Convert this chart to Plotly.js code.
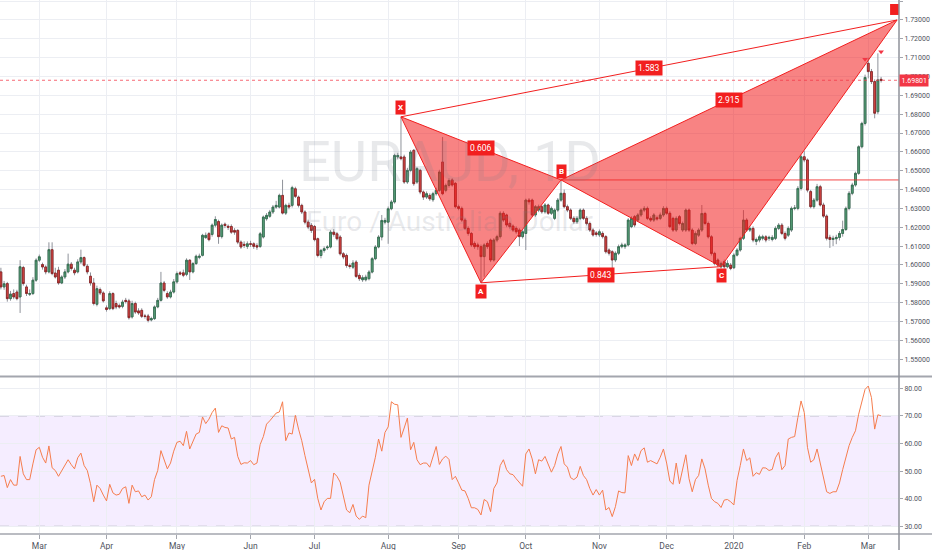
<!DOCTYPE html>
<html><head><meta charset="utf-8">
<script src="https://cdn.plot.ly/plotly-3.0.1.min.js"></script>
<style>html,body{margin:0;padding:0;background:#fff}#chart{width:932px;height:550px}</style>
</head><body><div id="chart"></div>
<script>
// ---------- calendar ----------
const startDate = '2019-02-13';
const holidays = ['2019-12-25', '2020-01-01'];
const monthNames = ['Jan','Feb','Mar','Apr','May','Jun','Jul','Aug','Sep','Oct','Nov','Dec'];

// ---------- EURAUD daily OHLC ----------
const open = [
1.5963,1.5883,1.5901,1.5821,1.5848,1.5856,1.5830,1.5986,1.5883,1.5844,
1.5848,1.5919,1.6025,1.6002,1.5989,1.5963,1.6081,1.5957,1.5972,1.5904,
1.5936,1.5963,1.6004,1.5972,1.5963,1.6016,1.6039,1.5993,1.5940,1.5904,
1.5791,1.5869,1.5851,1.5772,1.5768,1.5848,1.5795,1.5784,1.5780,1.5812,
1.5809,1.5724,1.5795,1.5756,1.5759,1.5729,1.5729,1.5708,1.5715,1.5777,
1.5812,1.5904,1.5848,1.5830,1.5856,1.5910,1.5958,1.5958,1.5950,1.6025,
1.5963,1.6007,1.6040,1.6051,1.6145,1.6166,1.6162,1.6211,1.6230,1.6150,
1.6216,1.6205,1.6204,1.6183,1.6183,1.6121,1.6109,1.6098,1.6112,1.6112,
1.6102,1.6098,1.6148,1.6245,1.6258,1.6281,1.6307,1.6307,1.6369,1.6275,
1.6316,1.6316,1.6404,1.6360,1.6316,1.6281,1.6227,1.6210,1.6204,1.6139,
1.6050,1.6077,1.6091,1.6095,1.6174,1.6165,1.6148,1.6059,1.6050,1.5997,
1.5988,1.6015,1.5944,1.5921,1.5921,1.5927,1.5962,1.6033,1.6095,1.6148,
1.6227,1.6227,1.6298,1.6334,1.6573,1.6573,1.6573,1.6440,1.6502,1.6608,
1.6440,1.6502,1.6387,1.6360,1.6369,1.6346,1.6378,1.6396,1.6546,1.6396,
1.6422,1.6451,1.6433,1.6309,1.6300,1.6238,1.6194,1.6167,1.6114,1.6106,
1.6097,1.6044,1.6114,1.6132,1.6026,1.6132,1.6150,1.6274,1.6265,1.6220,
1.6206,1.6194,1.6185,1.6150,1.6167,1.6344,1.6344,1.6265,1.6291,1.6309,
1.6282,1.6318,1.6274,1.6247,1.6291,1.6344,1.6380,1.6309,1.6291,1.6247,
1.6229,1.6247,1.6291,1.6247,1.6220,1.6185,1.6170,1.6159,1.6167,1.6150,
1.6079,1.6070,1.6026,1.6062,1.6097,1.6097,1.6106,1.6203,1.6256,1.6238,
1.6265,1.6291,1.6300,1.6247,1.6238,1.6250,1.6247,1.6265,1.6300,1.6274,
1.6247,1.6185,1.6256,1.6185,1.6185,1.6291,1.6185,1.6114,1.6158,1.6185,
1.6273,1.6220,1.6149,1.6061,1.6026,1.5990,1.6017,1.5990,1.5999,1.5985,
1.6052,1.6079,1.6141,1.6238,1.6185,1.6194,1.6125,1.6132,1.6141,1.6149,
1.6141,1.6135,1.6141,1.6194,1.6211,1.6167,1.6158,1.6185,1.6300,1.6300,
1.6406,1.6574,1.6557,1.6389,1.6309,1.6344,1.6415,1.6318,1.6259,1.6146,
1.6135,1.6139,1.6146,1.6167,1.6188,1.6300,1.6380,1.6424,1.6486,1.6627,
1.6751,1.7070,1.7026,1.6973,1.6813,1.6985];
const high = [
1.5985,1.5915,1.5910,1.5862,1.5870,1.5868,1.6025,1.5995,1.5895,1.5870,
1.5935,1.6035,1.6055,1.6012,1.5998,1.6120,1.6120,1.5985,1.5990,1.5945,
1.5978,1.6060,1.6015,1.5985,1.6030,1.6081,1.6045,1.6005,1.5960,1.5930,
1.5890,1.5880,1.5860,1.5785,1.5860,1.5855,1.5810,1.5795,1.5815,1.5825,
1.5820,1.5810,1.5805,1.5770,1.5770,1.5740,1.5740,1.5725,1.5785,1.5825,
1.5963,1.5915,1.5860,1.5868,1.5925,1.5965,1.5968,1.5975,1.6035,1.6030,
1.6015,1.6055,1.6060,1.6165,1.6172,1.6175,1.6220,1.6258,1.6240,1.6220,
1.6225,1.6215,1.6215,1.6195,1.6190,1.6130,1.6125,1.6125,1.6128,1.6120,
1.6115,1.6175,1.6262,1.6275,1.6292,1.6318,1.6340,1.6378,1.6452,1.6325,
1.6330,1.6420,1.6415,1.6368,1.6325,1.6290,1.6240,1.6222,1.6212,1.6145,
1.6085,1.6098,1.6105,1.6185,1.6190,1.6175,1.6158,1.6068,1.6060,1.6008,
1.6025,1.6025,1.5955,1.5945,1.5948,1.5972,1.6042,1.6105,1.6158,1.6265,
1.6250,1.6310,1.6345,1.6590,1.6595,1.6786,1.6585,1.6515,1.6610,1.6615,
1.6520,1.6510,1.6395,1.6390,1.6380,1.6388,1.6410,1.6505,1.6679,1.6432,
1.6460,1.6460,1.6440,1.6320,1.6310,1.6248,1.6205,1.6175,1.6125,1.6118,
1.6108,1.6115,1.6125,1.6140,1.6142,1.6160,1.6285,1.6285,1.6272,1.6230,
1.6215,1.6205,1.6195,1.6185,1.6352,1.6355,1.6352,1.6318,1.6320,1.6318,
1.6328,1.6325,1.6310,1.6300,1.6355,1.6451,1.6400,1.6320,1.6300,1.6258,
1.6258,1.6300,1.6300,1.6258,1.6230,1.6195,1.6180,1.6188,1.6178,1.6158,
1.6088,1.6078,1.6072,1.6108,1.6118,1.6115,1.6248,1.6258,1.6265,1.6275,
1.6300,1.6312,1.6310,1.6258,1.6275,1.6262,1.6278,1.6312,1.6310,1.6285,
1.6256,1.6258,1.6265,1.6230,1.6300,1.6300,1.6195,1.6178,1.6195,1.6318,
1.6282,1.6230,1.6158,1.6070,1.6035,1.6018,1.6028,1.6025,1.6010,1.6062,
1.6090,1.6150,1.6291,1.6248,1.6205,1.6205,1.6145,1.6160,1.6160,1.6158,
1.6155,1.6158,1.6205,1.6222,1.6222,1.6178,1.6205,1.6310,1.6318,1.6418,
1.6585,1.6605,1.6565,1.6398,1.6355,1.6430,1.6425,1.6330,1.6268,1.6160,
1.6155,1.6160,1.6180,1.6235,1.6310,1.6392,1.6436,1.6495,1.6635,1.6760,
1.7010,1.7100,1.7040,1.6985,1.7123,1.6998];
const low = [
1.5870,1.5868,1.5805,1.5810,1.5818,1.5812,1.5745,1.5890,1.5835,1.5835,
1.5840,1.5910,1.6015,1.5975,1.5950,1.5955,1.5945,1.5928,1.5895,1.5898,
1.5925,1.5955,1.5970,1.5945,1.5955,1.6005,1.5990,1.5950,1.5890,1.5785,
1.5780,1.5840,1.5800,1.5752,1.5760,1.5760,1.5765,1.5768,1.5770,1.5795,
1.5710,1.5715,1.5740,1.5735,1.5718,1.5715,1.5695,1.5700,1.5708,1.5770,
1.5805,1.5855,1.5820,1.5822,1.5848,1.5900,1.5945,1.5935,1.5940,1.5920,
1.5955,1.6000,1.6030,1.6045,1.6138,1.6125,1.6150,1.6200,1.6112,1.6140,
1.6195,1.6185,1.6165,1.6160,1.6110,1.6085,1.6090,1.6085,1.6095,1.6085,
1.6080,1.6090,1.6140,1.6235,1.6250,1.6270,1.6298,1.6300,1.6268,1.6265,
1.6295,1.6305,1.6355,1.6305,1.6270,1.6215,1.6190,1.6170,1.6125,1.6040,
1.6035,1.6065,1.6080,1.6088,1.6150,1.6130,1.6050,1.6030,1.5985,1.5980,
1.5978,1.5930,1.5915,1.5910,1.5912,1.5918,1.5955,1.6025,1.6088,1.6130,
1.6215,1.6112,1.6290,1.6325,1.6560,1.6555,1.6430,1.6430,1.6495,1.6420,
1.6430,1.6375,1.6345,1.6350,1.6340,1.6335,1.6368,1.6388,1.6370,1.6385,
1.6410,1.6415,1.6300,1.6290,1.6228,1.6185,1.6155,1.6095,1.6085,1.6080,
1.5905,1.5937,1.6085,1.6015,1.6018,1.6120,1.6140,1.6228,1.6200,1.6192,
1.6175,1.6165,1.6100,1.6140,1.6079,1.6320,1.6255,1.6255,1.6280,1.6272,
1.6272,1.6265,1.6265,1.6238,1.6282,1.6335,1.6300,1.6280,1.6238,1.6218,
1.6218,1.6238,1.6238,1.6210,1.6175,1.6150,1.6150,1.6148,1.6140,1.6060,
1.6050,1.5982,1.6015,1.6052,1.6088,1.6085,1.6098,1.6195,1.6200,1.6228,
1.6255,1.6280,1.6238,1.6228,1.6228,1.6235,1.6238,1.6255,1.6265,1.6195,
1.6175,1.6175,1.6210,1.6175,1.6175,1.6175,1.6105,1.6105,1.6148,1.6175,
1.6210,1.6140,1.6050,1.5998,1.5988,1.5981,1.5980,1.5982,1.5972,1.5978,
1.6045,1.6070,1.6132,1.6175,1.6175,1.6120,1.6105,1.6120,1.6130,1.6120,
1.6128,1.6125,1.6132,1.6185,1.6158,1.6130,1.6148,1.6175,1.6290,1.6290,
1.6395,1.6545,1.6385,1.6300,1.6298,1.6335,1.6310,1.6250,1.6130,1.6090,
1.6100,1.6110,1.6130,1.6150,1.6180,1.6290,1.6370,1.6415,1.6478,1.6618,
1.6740,1.6990,1.6960,1.6778,1.6800,1.6968];
const close = [
1.5883,1.5900,1.5821,1.5845,1.5830,1.5821,1.5990,1.5901,1.5848,1.5848,
1.5919,1.6025,1.6043,1.5989,1.5963,1.6081,1.5954,1.5936,1.5904,1.5936,
1.5963,1.6004,1.5981,1.5958,1.6016,1.6039,1.5998,1.5963,1.5904,1.5795,
1.5874,1.5851,1.5809,1.5764,1.5848,1.5768,1.5777,1.5777,1.5803,1.5806,
1.5720,1.5795,1.5750,1.5745,1.5727,1.5727,1.5706,1.5715,1.5777,1.5812,
1.5904,1.5865,1.5830,1.5856,1.5910,1.5954,1.5952,1.5945,1.6025,1.5963,
1.6007,1.6046,1.6046,1.6157,1.6157,1.6134,1.6211,1.6241,1.6150,1.6211,
1.6209,1.6200,1.6174,1.6174,1.6121,1.6095,1.6104,1.6112,1.6110,1.6098,
1.6095,1.6165,1.6254,1.6263,1.6281,1.6307,1.6316,1.6369,1.6275,1.6316,
1.6307,1.6410,1.6364,1.6316,1.6281,1.6227,1.6201,1.6183,1.6134,1.6050,
1.6077,1.6086,1.6095,1.6174,1.6162,1.6139,1.6059,1.6042,1.5997,1.5992,
1.6010,1.5939,1.5927,1.5932,1.5935,1.5962,1.6033,1.6095,1.6148,1.6236,
1.6236,1.6298,1.6334,1.6581,1.6581,1.6564,1.6440,1.6502,1.6599,1.6431,
1.6511,1.6387,1.6360,1.6378,1.6351,1.6378,1.6396,1.6493,1.6378,1.6422,
1.6448,1.6424,1.6309,1.6300,1.6238,1.6194,1.6167,1.6106,1.6097,1.6097,
1.6044,1.6106,1.6097,1.6026,1.6132,1.6150,1.6274,1.6238,1.6212,1.6203,
1.6185,1.6176,1.6150,1.6176,1.6344,1.6335,1.6265,1.6309,1.6309,1.6282,
1.6318,1.6274,1.6300,1.6291,1.6344,1.6380,1.6309,1.6291,1.6247,1.6229,
1.6247,1.6291,1.6247,1.6220,1.6185,1.6159,1.6162,1.6176,1.6150,1.6070,
1.6062,1.6026,1.6062,1.6097,1.6106,1.6106,1.6238,1.6247,1.6212,1.6265,
1.6291,1.6300,1.6247,1.6238,1.6265,1.6245,1.6265,1.6300,1.6274,1.6203,
1.6185,1.6247,1.6220,1.6220,1.6291,1.6185,1.6114,1.6167,1.6185,1.6273,
1.6220,1.6149,1.6061,1.6008,1.5999,1.6008,1.5990,1.6008,1.5981,1.6052,
1.6079,1.6141,1.6238,1.6185,1.6194,1.6132,1.6135,1.6149,1.6149,1.6132,
1.6146,1.6146,1.6194,1.6211,1.6167,1.6141,1.6194,1.6300,1.6302,1.6406,
1.6574,1.6557,1.6397,1.6309,1.6344,1.6415,1.6318,1.6259,1.6141,1.6135,
1.6141,1.6146,1.6167,1.6188,1.6300,1.6380,1.6424,1.6486,1.6627,1.6751,
1.6995,1.7026,1.6973,1.6805,1.6982,1.69801];

// ---------- RSI(14) ----------
const rsi = [
48.1,48.4,44.0,46.9,44.9,44.9,55.3,49.0,46.9,46.9,
52.6,57.7,58.6,55.0,52.9,59.1,51.2,50.2,48.1,50.2,
52.0,54.1,52.3,50.8,54.8,56.5,52.0,50.2,45.4,38.9,
44.9,43.7,41.3,39.2,45.2,42.1,41.3,41.6,43.7,44.3,
38.3,44.9,42.5,42.8,40.7,41.3,39.5,40.7,46.9,50.2,
57.4,54.4,50.8,52.9,57.2,60.4,60.8,59.2,64.4,58.0,
61.0,63.4,64.0,69.6,67.2,68.8,71.2,72.8,64.0,66.4,
65.8,65.6,61.6,62.2,55.3,52.4,53.0,52.9,53.8,52.3,
52.9,59.6,62.5,67.0,68.2,69.8,71.0,71.4,75.1,61.0,
63.8,63.4,70.2,65.2,61.0,55.6,50.5,45.7,47.0,40.1,
35.9,38.9,40.1,40.1,49.3,48.1,46.0,40.9,35.9,34.9,
37.9,33.7,32.5,33.7,33.1,44.9,50.2,55.0,61.6,57.2,
64.0,66.0,75.1,74.2,74.0,62.2,65.6,69.2,57.7,60.4,
54.1,52.3,52.9,52.9,51.4,54.8,58.9,52.4,54.4,55.4,
54.2,46.9,48.1,45.7,43.1,42.8,40.1,36.7,36.7,36.1,
34.1,39.7,38.9,35.3,43.7,45.7,52.0,54.1,50.5,49.0,
48.7,47.2,46.0,44.5,56.2,58.0,54.4,49.0,54.1,53.6,
55.3,52.6,49.6,52.0,56.2,58.9,52.6,51.4,47.6,46.9,
47.8,51.7,48.4,46.9,43.7,41.3,43.3,41.3,43.1,35.9,
36.8,33.5,37.1,42.8,42.2,42.1,55.6,52.0,56.2,53.8,
57.4,58.4,53.2,53.8,53.2,52.6,55.0,58.0,52.9,46.4,
45.2,52.9,45.4,50.2,55.9,47.2,42.5,46.9,48.4,54.4,
50.8,44.9,40.1,38.9,38.3,36.8,39.5,39.7,38.9,37.7,
46.6,52.0,58.0,53.8,54.8,48.1,49.4,48.8,51.2,51.1,
50.2,50.6,54.8,56.8,50.5,52.0,61.6,62.2,62.5,69.4,
75.4,71.2,58.6,53.2,54.1,58.0,52.6,48.1,42.5,41.9,
42.5,42.5,45.7,50.5,55.3,59.2,62.2,64.6,70.6,74.8,
79.6,80.8,76.6,65.2,70.4,70.0];

// ---------- XABCD pattern ----------
const patternLetters = ['X','A','B','C','D'];
const patternDates = ['2019-08-07','2019-09-11','2019-10-16','2019-12-26','2020-03-13'];
const patternPrices = [1.6786, 1.5905, 1.6451, 1.5991, 1.7300];
const ratioPairs = [[0,2],[1,3],[0,4],[2,4]];
const ratioLabels = ['0.606','0.843','1.583','2.915'];
// fractal markers
const markerDates = ['2020-02-28','2020-03-06'];
const markerPrices = [1.7091, 1.7132];

// ---------- build ----------
function tradingCalendar(start, n){
  const out=[]; const d=new Date(start+'T00:00:00Z');
  while(out.length<n){
    const dow=d.getUTCDay(); const s=d.toISOString().slice(0,10);
    if(dow!==0 && dow!==6 && !holidays.includes(s)) out.push(s);
    d.setUTCDate(d.getUTCDate()+1);
  }
  return out;
}
const calendar = tradingCalendar(startDate, 300);
const idx = s => calendar.indexOf(s);
const xs = close.map((_,i)=>i);

const tickvals=[], ticktext=[];
for(let i=1;i<calendar.length;i++){
  if(calendar[i].slice(5,7)!==calendar[i-1].slice(5,7)){
    const m=+calendar[i].slice(5,7);
    tickvals.push(i); ticktext.push(m===1 ? calendar[i].slice(0,4) : monthNames[m-1]);
  }
}

const bodyHigh = open.map((o,i)=>Math.max(o,close[i]));
const bodyLow = open.map((o,i)=>Math.min(o,close[i]));
const px = patternDates.map(idx), py = patternPrices;

const RED='#f21f1f';
const FILL='rgba(242,30,30,0.55)';
const wickC='#8f929a';
const traces = [
  {type:'candlestick', x:xs, open, high, low, close, xaxis:'x', yaxis:'y',
   increasing:{line:{color:wickC,width:1},fillcolor:wickC},
   decreasing:{line:{color:wickC,width:1},fillcolor:wickC}, hoverinfo:'skip'},
  {type:'candlestick', x:xs, open, high:bodyHigh, low:bodyLow, close, xaxis:'x', yaxis:'y',
   increasing:{line:{color:'#2e6a4a',width:0.8},fillcolor:'#5aa27c'},
   decreasing:{line:{color:'#86201f',width:0.8},fillcolor:'#dd4a48'}, hoverinfo:'skip'},
  {type:'scatter', mode:'lines', x:[px[0],px[1],px[2],px[0]], y:[py[0],py[1],py[2],py[0]],
   fill:'toself', fillcolor:FILL, line:{color:RED,width:1}, xaxis:'x', yaxis:'y', hoverinfo:'skip'},
  {type:'scatter', mode:'lines', x:[px[2],px[3],px[4],px[2]], y:[py[2],py[3],py[4],py[2]],
   fill:'toself', fillcolor:FILL, line:{color:RED,width:1}, xaxis:'x', yaxis:'y', hoverinfo:'skip'},
  {type:'scatter', mode:'lines', x:[px[1],px[3]], y:[py[1],py[3]], line:{color:RED,width:1}, xaxis:'x', yaxis:'y', hoverinfo:'skip'},
  {type:'scatter', mode:'lines', x:[px[0],px[4]], y:[py[0],py[4]], line:{color:RED,width:1}, xaxis:'x', yaxis:'y', hoverinfo:'skip'},
  {type:'scatter', mode:'lines', x:[px[2],px[4]+2], y:[py[2],py[2]], line:{color:'rgba(242,40,40,0.85)',width:1}, xaxis:'x', yaxis:'y', hoverinfo:'skip'},
  {type:'scatter', mode:'markers', x:markerDates.map(idx), y:markerPrices,
   marker:{symbol:'triangle-down', size:5, color:'#f23645'}, xaxis:'x', yaxis:'y', hoverinfo:'skip'},
  {type:'scatter', mode:'lines', x:xs, y:rsi, line:{color:'#f57d4e',width:1}, xaxis:'x', yaxis:'y2', hoverinfo:'skip'}
];

const annotations = [
  {xref:'paper', yref:'paper', x:0.5006, y:0.697, text:'EURAUD, 1D', showarrow:false,
   font:{family:'Roboto, sans-serif', size:56, color:'rgba(120,123,134,0.17)'}, xanchor:'center', yanchor:'middle'},
  {xref:'paper', yref:'paper', x:0.5006, y:0.586, text:'Euro / Australian Dollar', showarrow:false,
   font:{family:'Roboto, sans-serif', size:28, color:'rgba(120,123,134,0.17)'}, xanchor:'center', yanchor:'middle'}
];
const shifts=[9,-9,8,-9];
for(let k=0;k<4;k++){
  annotations.push({x:px[k], y:py[k], xref:'x', yref:'y', text:'<b>'+patternLetters[k]+'</b>', showarrow:false,
    bgcolor:RED, borderpad:2, font:{color:'#fff', size:8, family:'Roboto, sans-serif'}, yshift:shifts[k]});
}
ratioPairs.forEach((p,k)=>{
  annotations.push({x:(px[p[0]]+px[p[1]])/2, y:(py[p[0]]+py[p[1]])/2, xref:'x', yref:'y',
    text:ratioLabels[k], showarrow:false, bgcolor:RED, borderpad:2,
    font:{color:'#fff', size:8.5, family:'Roboto, sans-serif'}});
});
const last = close[close.length-1];
annotations.push({xref:'paper', yref:'y', x:1, y:last, xanchor:'left', xshift:0, text:last.toFixed(5),
  showarrow:false, bgcolor:'#f23645', borderpad:1.5, font:{color:'#fff', size:7, family:'Roboto, sans-serif'}});

const shapes = [
  {type:'rect', xref:'paper', yref:'y2', x0:0, x1:1, y0:30, y1:70, fillcolor:'rgba(160,80,255,0.10)', line:{width:0}, layer:'below'},
  {type:'line', xref:'paper', yref:'y2', x0:0, x1:1, y0:70, y1:70, line:{color:'#a8abb3', width:1, dash:'dash'}, layer:'below'},
  {type:'line', xref:'paper', yref:'y2', x0:0, x1:1, y0:30, y1:30, line:{color:'#a8abb3', width:1, dash:'dash'}, layer:'below'},
  {type:'line', xref:'paper', yref:'y', x0:0, x1:1, y0:last, y1:last, line:{color:'rgba(242,54,69,0.75)', width:1, dash:'dot'}},
  {type:'rect', xref:'x', yref:'y', xsizemode:'pixel', ysizemode:'pixel', xanchor:px[4], yanchor:py[4],
   x0:-7, x1:7, y0:5, y1:16, fillcolor:RED, line:{width:0}},
  {type:'line', xref:'paper', yref:'paper', x0:0, x1:1.04, y0:0.2949, y1:0.2949, line:{color:'#a3a6ae', width:2}},
  {type:'line', xref:'paper', yref:'paper', x0:0, x1:1.04, y0:0, y1:0, line:{color:'#a3a6ae', width:1.5}},
  {type:'line', xref:'paper', yref:'paper', x0:1, x1:1, y0:-0.04, y1:1, line:{color:'#8f929a', width:1.5}}
];

const GRID='#eceef3';
const layout = {
  width:932, height:550, margin:{l:0,r:33,t:0,b:16},
  paper_bgcolor:'#ffffff', plot_bgcolor:'#ffffff', showlegend:false, hovermode:false, dragmode:false,
  font:{family:'Roboto, sans-serif', size:8, color:'#50535e'},
  boxgap:0.2,
  xaxis:{type:'linear', range:[-0.28,280.6], tickvals, ticktext, showgrid:true, gridcolor:GRID, gridwidth:1,
    zeroline:false, anchor:'y2', ticks:'outside', ticklen:4, tickcolor:'#a3a6ae', showline:false,
    rangeslider:{visible:false}, tickfont:{size:8.5, color:'#50535e'}, fixedrange:true},
  yaxis:{domain:[0.2968,1], range:[1.5413,1.7406], side:'right', anchor:'x', dtick:0.01, tick0:1.5,
    tickformat:'.5f', showgrid:true, gridcolor:GRID, zeroline:false, ticks:'outside', ticklen:3,
    tickcolor:'#a3a6ae', tickfont:{size:7, color:'#50535e'}, fixedrange:true},
  yaxis2:{domain:[0,0.2931], range:[27.2,83.9], side:'right', anchor:'x', tickvals:[30,40,50,60,70,80],
    tickformat:'.2f', showgrid:true, gridcolor:GRID, zeroline:false, ticks:'outside', ticklen:3,
    tickcolor:'#a3a6ae', tickfont:{size:7, color:'#50535e'}, fixedrange:true},
  annotations, shapes
};
Plotly.newPlot('chart', traces, layout, {staticPlot:true, displayModeBar:false});
</script>
</body></html>
